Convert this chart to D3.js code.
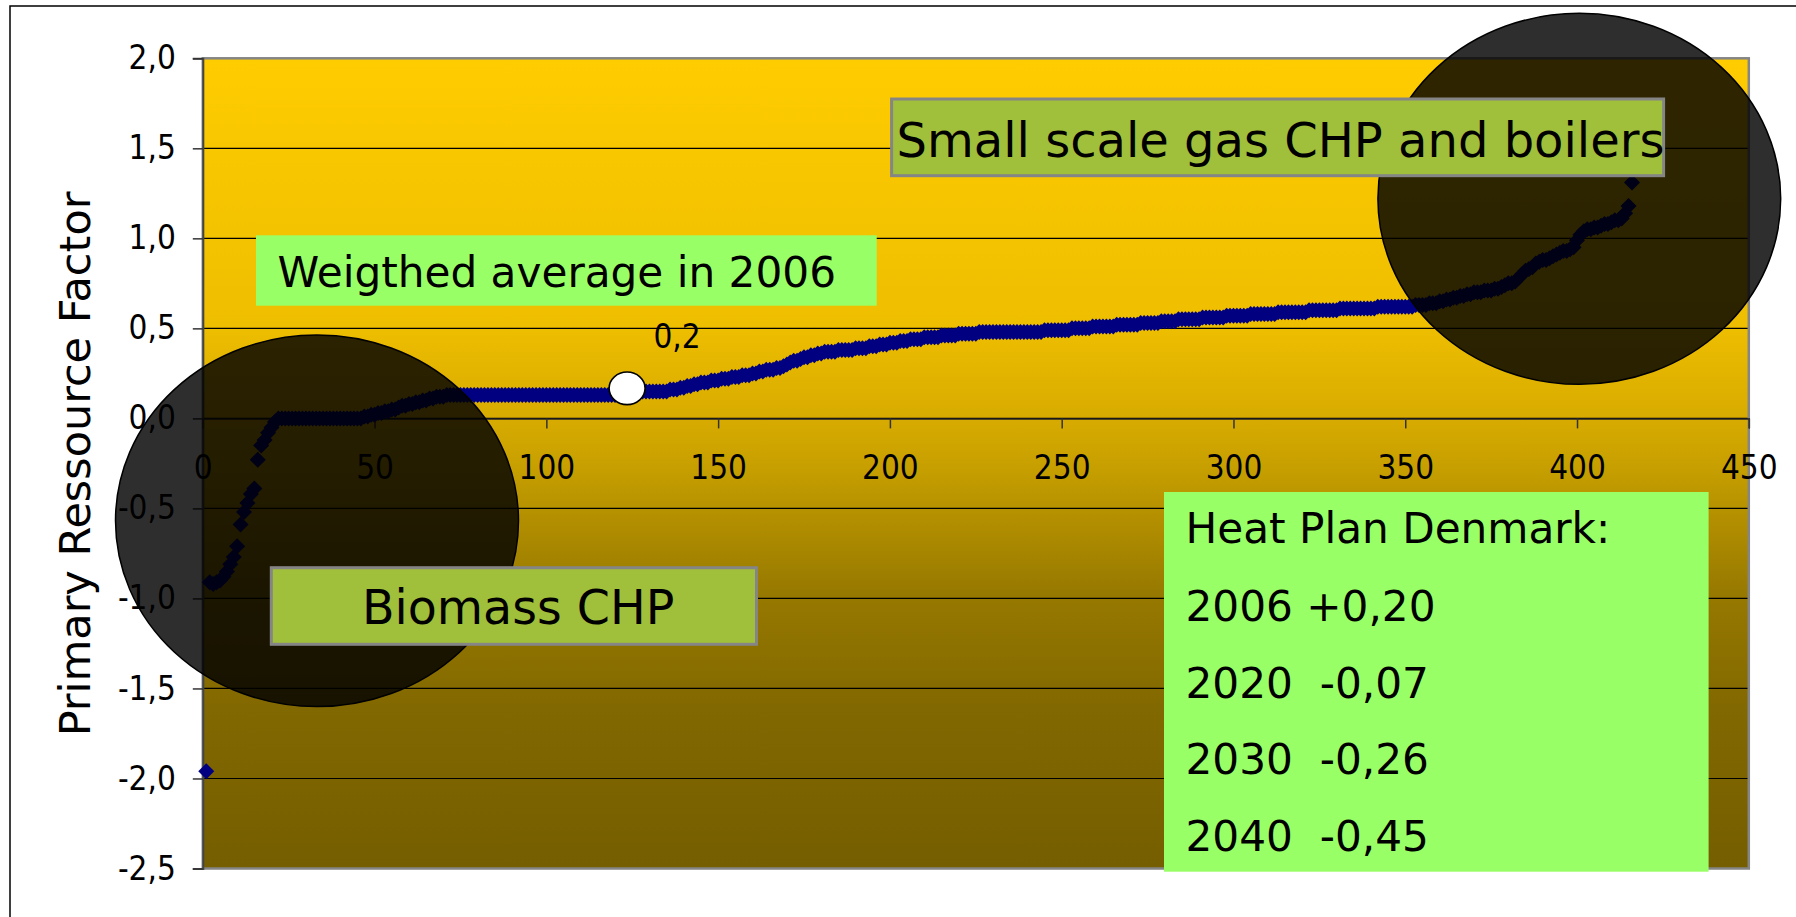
<!DOCTYPE html>
<html>
<head>
<meta charset="utf-8">
<script src="https://cdn.jsdelivr.net/npm/d3@7"></script>
<style>
  html, body { margin: 0; padding: 0; background: #fff; }
  svg { display: block; }
  text { font-family: "DejaVu Sans", Verdana, sans-serif; fill: #000; }
  .tick text { font-family: "DejaVu Sans Condensed", "DejaVu Sans", sans-serif; font-stretch: condensed; }
</style>
</head>
<body>
<svg id="chart" width="1796" height="917"></svg>
<script>
// ---------------- DATA ----------------
const resourceFactor = [
  -1.96, -0.91, -0.92, -0.91, -0.90, -0.88, -0.85, -0.81, -0.77, -0.71,
  -0.59, -0.52, -0.47, -0.42, -0.39, -0.23, -0.15, -0.12, -0.08, -0.05,
  -0.02, 0.00, 0.00, 0.00, 0.00, 0.00, 0.00, 0.00, 0.00, 0.00,
  0.00, 0.00, 0.00, 0.00, 0.00, 0.00, 0.00, 0.00, 0.00, 0.00,
  0.00, 0.00, 0.00, 0.00, 0.00, 0.00, 0.01, 0.01, 0.02, 0.02,
  0.03, 0.03, 0.04, 0.04, 0.05, 0.05, 0.06, 0.07, 0.07, 0.08,
  0.08, 0.09, 0.09, 0.10, 0.10, 0.11, 0.11, 0.12, 0.12, 0.12,
  0.13, 0.13, 0.13, 0.13, 0.13, 0.13, 0.13, 0.13, 0.13, 0.13,
  0.13, 0.13, 0.13, 0.13, 0.13, 0.13, 0.13, 0.13, 0.13, 0.13,
  0.13, 0.13, 0.13, 0.13, 0.13, 0.13, 0.13, 0.13, 0.13, 0.13,
  0.13, 0.13, 0.13, 0.13, 0.13, 0.13, 0.13, 0.13, 0.13, 0.13,
  0.13, 0.13, 0.13, 0.13, 0.13, 0.13, 0.13, 0.13, 0.13, 0.13,
  0.14, 0.14, 0.15, 0.15, 0.15, 0.15, 0.15, 0.15, 0.15, 0.15,
  0.15, 0.15, 0.15, 0.15, 0.15, 0.16, 0.16, 0.16, 0.17, 0.17,
  0.18, 0.18, 0.19, 0.19, 0.20, 0.20, 0.20, 0.21, 0.21, 0.21,
  0.22, 0.22, 0.22, 0.23, 0.23, 0.23, 0.24, 0.24, 0.24, 0.25,
  0.25, 0.26, 0.26, 0.27, 0.27, 0.27, 0.28, 0.28, 0.29, 0.30,
  0.31, 0.32, 0.32, 0.33, 0.34, 0.34, 0.35, 0.35, 0.36, 0.36,
  0.37, 0.37, 0.37, 0.37, 0.38, 0.38, 0.38, 0.38, 0.38, 0.39,
  0.39, 0.39, 0.39, 0.40, 0.40, 0.40, 0.41, 0.41, 0.41, 0.42,
  0.42, 0.42, 0.43, 0.43, 0.43, 0.44, 0.44, 0.44, 0.44, 0.45,
  0.45, 0.45, 0.45, 0.45, 0.46, 0.46, 0.46, 0.46, 0.46, 0.47,
  0.47, 0.47, 0.47, 0.47, 0.47, 0.48, 0.48, 0.48, 0.48, 0.48,
  0.48, 0.48, 0.48, 0.48, 0.48, 0.48, 0.48, 0.48, 0.48, 0.48,
  0.48, 0.48, 0.48, 0.48, 0.49, 0.49, 0.49, 0.49, 0.49, 0.49,
  0.49, 0.49, 0.50, 0.50, 0.50, 0.50, 0.50, 0.50, 0.51, 0.51,
  0.51, 0.51, 0.51, 0.51, 0.51, 0.52, 0.52, 0.52, 0.52, 0.52,
  0.52, 0.52, 0.53, 0.53, 0.53, 0.53, 0.53, 0.53, 0.54, 0.54,
  0.54, 0.54, 0.54, 0.55, 0.55, 0.55, 0.55, 0.55, 0.55, 0.55,
  0.56, 0.56, 0.56, 0.56, 0.56, 0.56, 0.56, 0.57, 0.57, 0.57,
  0.57, 0.57, 0.57, 0.57, 0.58, 0.58, 0.58, 0.58, 0.58, 0.58,
  0.58, 0.58, 0.59, 0.59, 0.59, 0.59, 0.59, 0.59, 0.59, 0.59,
  0.59, 0.60, 0.60, 0.60, 0.60, 0.60, 0.60, 0.60, 0.60, 0.60,
  0.61, 0.61, 0.61, 0.61, 0.61, 0.61, 0.61, 0.61, 0.61, 0.61,
  0.61, 0.62, 0.62, 0.62, 0.62, 0.62, 0.62, 0.62, 0.62, 0.62,
  0.62, 0.62, 0.63, 0.63, 0.63, 0.63, 0.64, 0.64, 0.64, 0.65,
  0.65, 0.66, 0.66, 0.67, 0.67, 0.68, 0.68, 0.69, 0.69, 0.70,
  0.70, 0.70, 0.71, 0.71, 0.71, 0.72, 0.72, 0.73, 0.74, 0.75,
  0.75, 0.76, 0.78, 0.80, 0.82, 0.83, 0.84, 0.86, 0.87, 0.88,
  0.88, 0.89, 0.90, 0.91, 0.92, 0.93, 0.93, 0.94, 0.95, 0.99,
  1.02, 1.04, 1.05, 1.05, 1.06, 1.06, 1.07, 1.08, 1.08, 1.09,
  1.10, 1.10, 1.11, 1.14, 1.18, 1.31
];
const plantRank = resourceFactor.map((_, i) => i + 1);

const xTicks = [0, 50, 100, 150, 200, 250, 300, 350, 400, 450];
const yTicks = [2.0, 1.5, 1.0, 0.5, 0.0, -0.5, -1.0, -1.5, -2.0, -2.5];
const yTickLabels = ["2,0", "1,5", "1,0", "0,5", "0,0", "-0,5", "-1,0", "-1,5", "-2,0", "-2,5"];

const weightedAverage = { x: 123.5, y: 0.167, label: "0,2" };
const yAxisTitle = "Primary Ressource Factor";
const avgBoxText = "Weigthed average in 2006";
const gasBoxText = "Small scale gas CHP and boilers";
const bioBoxText = "Biomass CHP";
const heatPlanLines = ["Heat Plan Denmark:", "2006 +0,20", "2020  -0,07", "2030  -0,26", "2040  -0,45"];

// ---------------- LAYOUT ----------------
const svg = d3.select("#chart");
const plot = { left: 202.8, right: 1748.8, top: 58.3, bottom: 868.5 };

const x = d3.scaleLinear().domain([0, 450]).range([plot.left, plot.right]);
const y = d3.scaleLinear().domain([-2.5, 2.0]).range([plot.bottom, plot.top]);

// outer frame (only left & top visible)
svg.append("rect")
  .attr("x", 10).attr("y", 6).attr("width", 1900).attr("height", 1000)
  .attr("fill", "none").attr("stroke", "#000").attr("stroke-width", 1.5);

// background gradient
const defs = svg.append("defs");
const grad = defs.append("linearGradient").attr("id", "bg")
  .attr("x1", 0).attr("y1", 0).attr("x2", 0).attr("y2", 1);
[[0, "#FFCC00"], [0.33, "#EEBE00"], [0.45, "#D6AA00"], [0.5, "#C8A000"],
 [0.66, "#977900"], [0.8, "#826800"], [1, "#755E00"]]
  .forEach(([o, c]) => grad.append("stop").attr("offset", o).attr("stop-color", c));

svg.append("rect")
  .attr("x", plot.left).attr("y", plot.top)
  .attr("width", plot.right - plot.left).attr("height", plot.bottom - plot.top)
  .attr("fill", "url(#bg)");

// gridlines
svg.append("g").selectAll("line")
  .data(yTicks.filter(d => d < 2 && d > -2.5))
  .join("line")
  .attr("x1", plot.left).attr("x2", plot.right)
  .attr("y1", d => y(d)).attr("y2", d => y(d))
  .attr("stroke", "#000").attr("stroke-width", 1.2);

// plot border
svg.append("rect")
  .attr("x", plot.left).attr("y", plot.top)
  .attr("width", plot.right - plot.left).attr("height", plot.bottom - plot.top)
  .attr("fill", "none").attr("stroke", "#858585").attr("stroke-width", 2.5);

// y axis
const yAxis = d3.axisLeft(y).tickValues(yTicks).tickSize(10).tickPadding(17)
  .tickFormat((d, i) => yTickLabels[i]);
const gy = svg.append("g").attr("transform", `translate(${plot.left},0)`).call(yAxis);
gy.attr("font-family", null);
gy.select(".domain").attr("stroke", "#444").attr("stroke-width", 2);
gy.selectAll(".tick line").attr("stroke", "#333").attr("stroke-width", 1.5);
gy.selectAll(".tick text").attr("font-size", 33).attr("fill", "#000");

// x axis at y = 0
const xAxis = d3.axisBottom(x).tickValues(xTicks).tickSize(10).tickPadding(27)
  .tickFormat(d3.format("d"));
const gx = svg.append("g").attr("transform", `translate(0,${y(0)})`).call(xAxis);
gx.attr("font-family", null);
gx.select(".domain").attr("stroke", "#222").attr("stroke-width", 1.5);
gx.selectAll(".tick line").attr("stroke", "#333").attr("stroke-width", 1.5);
gx.selectAll(".tick text").attr("font-size", 33).attr("fill", "#000");

// y axis title
svg.append("text")
  .attr("transform", `translate(90,${464}) rotate(-90)`)
  .attr("text-anchor", "middle")
  .attr("font-size", 43)
  .text(yAxisTitle);

// series (diamond markers)
const r = 8;
const diamond = `M0,${-r}L${r},0L0,${r}L${-r},0Z`;
svg.append("g").selectAll("path")
  .data(plantRank.map((d, i) => [d, resourceFactor[i]]))
  .join("path")
  .attr("d", diamond)
  .attr("transform", d => `translate(${x(d[0])},${y(d[1])})`)
  .attr("fill", "#000080");

// weighted average marker
svg.append("ellipse")
  .attr("cx", x(weightedAverage.x)).attr("cy", y(weightedAverage.y))
  .attr("rx", 18).attr("ry", 16.3)
  .attr("fill", "#fff").attr("stroke", "#000").attr("stroke-width", 1.6);
svg.append("text")
  .attr("x", x(weightedAverage.x) + 50).attr("y", y(weightedAverage.y) - 40)
  .attr("text-anchor", "middle").attr("font-size", 33)
  .style("font-family", "'DejaVu Sans Condensed', 'DejaVu Sans', sans-serif")
  .style("font-stretch", "condensed")
  .text(weightedAverage.label);

// dark highlight circles
svg.append("ellipse")
  .attr("cx", 317).attr("cy", 520.8).attr("rx", 201.5).attr("ry", 185.8)
  .attr("fill", "#000").attr("fill-opacity", 0.82)
  .attr("stroke", "#000").attr("stroke-width", 1.5);
svg.append("ellipse")
  .attr("cx", 1579.3).attr("cy", 198.8).attr("rx", 201.4).attr("ry", 185.5)
  .attr("fill", "#000").attr("fill-opacity", 0.82)
  .attr("stroke", "#000").attr("stroke-width", 1.5);

// Weighted average box
svg.append("rect").attr("x", 256).attr("y", 235.3).attr("width", 620.7).attr("height", 70.4)
  .attr("fill", "#99FF66");
svg.append("text").attr("x", 277.5).attr("y", 287).attr("font-size", 42.2).text(avgBoxText);

// Small scale gas box
svg.append("rect").attr("x", 891.6).attr("y", 99).attr("width", 772).attr("height", 76.7)
  .attr("fill", "#A0BF3A").attr("stroke", "#858585").attr("stroke-width", 3);
svg.append("text").attr("x", 896.6).attr("y", 156.7).attr("font-size", 48).text(gasBoxText);

// Biomass box
svg.append("rect").attr("x", 271.3).attr("y", 567.7).attr("width", 485.2).attr("height", 76.6)
  .attr("fill", "#A0BF3A").attr("stroke", "#858585").attr("stroke-width", 3);
svg.append("text").attr("x", 362).attr("y", 624).attr("font-size", 47.5).text(bioBoxText);

// Heat plan box
svg.append("rect").attr("x", 1164).attr("y", 492).attr("width", 544.6).attr("height", 379.7)
  .attr("fill", "#99FF66");
const lineBase = [543.3, 621, 697.7, 774.3, 851];
svg.append("g").selectAll("text").data(heatPlanLines).join("text")
  .attr("x", 1185.5).attr("y", (d, i) => lineBase[i])
  .attr("font-size", 42.2)
  .attr("xml:space", "preserve").style("white-space", "pre")
  .text(d => d);
</script>
</body>
</html>
